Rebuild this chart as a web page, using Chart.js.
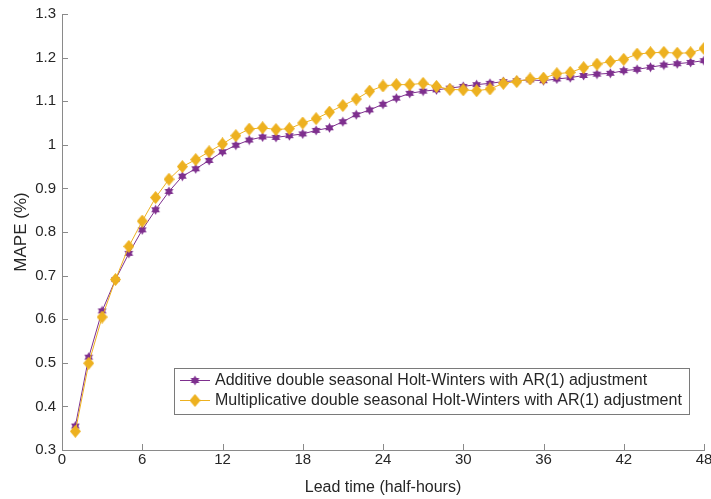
<!DOCTYPE html>
<html>
<head>
<meta charset="utf-8">
<script src="https://cdn.jsdelivr.net/npm/chart.js@4.4.1/dist/chart.umd.min.js"></script>
<style>
    html, body { margin: 0; padding: 0; background: #fff; }
    #wrap { width: 711px; height: 499px; }
</style>
</head>
<body>
<div id="wrap"><canvas id="myChart" width="711" height="499"></canvas></div>
<script>
const leadTime = [1, 2, 3, 4, 5, 6, 7, 8, 9, 10, 11, 12, 13, 14, 15, 16, 17, 18, 19, 20, 21, 22, 23, 24,
    25, 26, 27, 28, 29, 30, 31, 32, 33, 34, 35, 36, 37, 38, 39, 40, 41, 42, 43, 44, 45, 46, 47, 48];

const additive = [0.355, 0.513, 0.619, 0.691, 0.751, 0.805, 0.851, 0.893, 0.928, 0.945, 0.964, 0.984,
    0.999, 1.011, 1.018, 1.017, 1.021, 1.025, 1.033, 1.039, 1.053, 1.069, 1.080, 1.093,
    1.107, 1.118, 1.123, 1.126, 1.130, 1.134, 1.138, 1.141, 1.145, 1.147, 1.149, 1.147,
    1.151, 1.154, 1.159, 1.162, 1.164, 1.170, 1.173, 1.178, 1.183, 1.186, 1.189, 1.193];

const multiplicative = [0.343, 0.499, 0.605, 0.691, 0.767, 0.825, 0.879, 0.921, 0.950, 0.966, 0.984, 1.002,
    1.021, 1.036, 1.039, 1.035, 1.037, 1.050, 1.060, 1.075, 1.090, 1.105, 1.123, 1.135,
    1.138, 1.138, 1.141, 1.134, 1.127, 1.126, 1.124, 1.128, 1.141, 1.145, 1.151, 1.153,
    1.163, 1.166, 1.177, 1.185, 1.191, 1.196, 1.208, 1.211, 1.212, 1.210, 1.211, 1.221];

const xTicks = [0, 6, 12, 18, 24, 30, 36, 42, 48];

const seriesLabels = [
    'Additive double seasonal Holt-Winters with AR(1) adjustment',
    'Multiplicative double seasonal Holt-Winters with AR(1) adjustment'
];

const purple = '#7E2F8E';
const orange = '#EDB120';
const axisColor = '#8a8a8a';
const textColor = '#262626';
const fontFamily = '"Liberation Sans", Arial, Helvetica, sans-serif';

function makeHexagram(size, color) {
    const c = document.createElement('canvas');
    c.width = size;
    c.height = size;
    const ctx = c.getContext('2d');
    const cx = size / 2, cy = size / 2;
    const outer = size / 2 - 0.5, inner = outer * 0.58;
    ctx.beginPath();
    for (let i = 0; i < 12; i++) {
        const r = i % 2 === 0 ? outer : inner;
        const a = -Math.PI / 2 + i * Math.PI / 6;
        const px = cx + r * Math.cos(a), py = cy + r * Math.sin(a);
        if (i === 0) ctx.moveTo(px, py); else ctx.lineTo(px, py);
    }
    ctx.closePath();
    ctx.fillStyle = color;
    ctx.fill();
    return c;
}

function makeDiamond(w, h, color) {
    const c = document.createElement('canvas');
    c.width = w;
    c.height = h;
    const ctx = c.getContext('2d');
    ctx.beginPath();
    ctx.moveTo(w / 2, 0);
    ctx.lineTo(w, h / 2);
    ctx.lineTo(w / 2, h);
    ctx.lineTo(0, h / 2);
    ctx.closePath();
    ctx.fillStyle = color;
    ctx.fill();
    return c;
}

const starMarker = makeHexagram(11, purple);
const diamondMarker = makeDiamond(11, 13, orange);

function toPoints(values) {
    return values.map((v, i) => ({ x: leadTime[i], y: v }));
}

// inward tick marks like the original figure
const innerTicks = {
    id: 'innerTicks',
    afterDraw(chart) {
        const { ctx, chartArea, scales } = chart;
        ctx.save();
        ctx.strokeStyle = axisColor;
        ctx.lineWidth = 1;
        ctx.beginPath();
        scales.x.ticks.forEach(t => {
            const px = Math.round(scales.x.getPixelForValue(t.value)) + 0.5;
            ctx.moveTo(px, chartArea.bottom);
            ctx.lineTo(px, chartArea.bottom - 6);
        });
        scales.y.ticks.forEach(t => {
            const py = Math.round(scales.y.getPixelForValue(t.value)) + 0.5;
            ctx.moveTo(chartArea.left, py);
            ctx.lineTo(chartArea.left + 6, py);
        });
        ctx.stroke();
        ctx.restore();
    }
};

// legend box inside the plot area
const boxLegend = {
    id: 'boxLegend',
    afterDraw(chart) {
        const { ctx } = chart;
        const left = 174.5, top = 368.5, right = 689.5, bottom = 414.5;
        ctx.save();
        ctx.fillStyle = '#fff';
        ctx.fillRect(left, top, right - left, bottom - top);
        ctx.strokeStyle = '#7a7a7a';
        ctx.lineWidth = 1;
        ctx.strokeRect(left, top, right - left, bottom - top);
        ctx.font = '16px ' + fontFamily;
        ctx.textBaseline = 'middle';
        const rows = [380, 400];
        chart.data.datasets.forEach((ds, i) => {
            const y = rows[i] + 0.5;
            ctx.strokeStyle = ds.borderColor;
            ctx.beginPath();
            ctx.moveTo(180, y);
            ctx.lineTo(210, y);
            ctx.stroke();
            const img = ds.pointStyle;
            ctx.drawImage(img, 195 - img.width / 2, rows[i] - img.height / 2 + 0.5);
            ctx.fillStyle = textColor;
            ctx.fillText(ds.label, 215, rows[i] + 1);
        });
        ctx.restore();
    }
};

new Chart(document.getElementById('myChart').getContext('2d'), {
    type: 'line',
    data: {
        datasets: [{
            label: seriesLabels[0],
            data: toPoints(additive),
            borderColor: purple,
            backgroundColor: purple,
            borderWidth: 1,
            pointStyle: starMarker,
            pointRadius: 5,
            order: 1
        }, {
            label: seriesLabels[1],
            data: toPoints(multiplicative),
            borderColor: orange,
            backgroundColor: orange,
            borderWidth: 1,
            pointStyle: diamondMarker,
            pointRadius: 6,
            order: 0
        }]
    },
    options: {
        responsive: false,
        animation: false,
        layout: { padding: { top: 14, right: 7, left: 0, bottom: 0 } },
        plugins: {
            legend: { display: false },
            tooltip: { enabled: false }
        },
        scales: {
            x: {
                type: 'linear',
                min: 0,
                max: 48,
                afterBuildTicks: scale => {
                    scale.ticks = xTicks.map(v => ({ value: v }));
                },
                afterFit: scale => {
                    scale.height = 49;
                    scale.paddingLeft = 0;
                    scale.paddingRight = 0;
                },
                grid: { display: true, drawOnChartArea: false, drawTicks: false },
                border: { display: true, color: axisColor, width: 1 },
                ticks: {
                    padding: 1,
                    maxRotation: 0,
                    color: textColor,
                    font: { family: fontFamily, size: 15 }
                },
                title: {
                    display: true,
                    text: 'Lead time (half-hours)',
                    color: textColor,
                    padding: { top: 0, bottom: 2 },
                    font: { family: fontFamily, size: 16 }
                }
            },
            y: {
                min: 0.3,
                max: 1.3,
                afterFit: scale => {
                    scale.width = 62;
                    scale.paddingTop = 0;
                    scale.paddingBottom = 0;
                },
                grid: { display: true, drawOnChartArea: false, drawTicks: false },
                border: { display: true, color: axisColor, width: 1 },
                ticks: {
                    stepSize: 0.1,
                    padding: 6,
                    color: textColor,
                    font: { family: fontFamily, size: 15 },
                    callback: v => String(+v.toFixed(1))
                },
                title: {
                    display: true,
                    text: 'MAPE (%)',
                    color: textColor,
                    padding: { top: 11, bottom: 0 },
                    font: { family: fontFamily, size: 17 }
                }
            }
        }
    },
    plugins: [innerTicks, boxLegend]
});
</script>
</body>
</html>
